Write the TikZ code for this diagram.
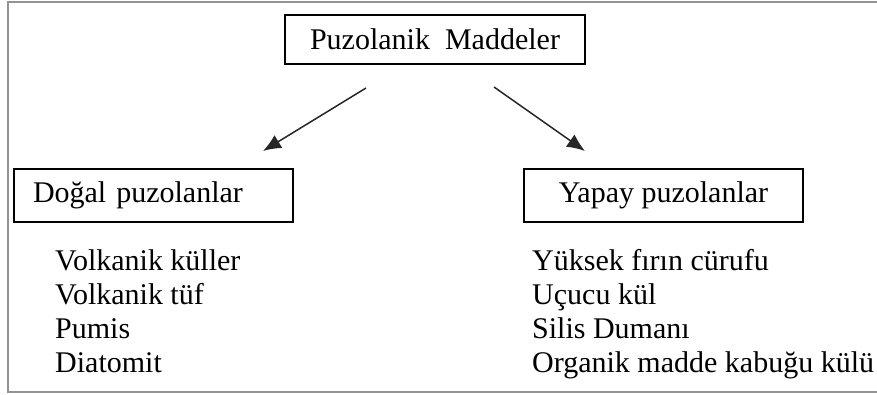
\documentclass[tikz,border=0pt]{standalone}
\usepackage{fontspec}
\setmainfont{Liberation Serif}
\usetikzlibrary{arrows.meta}
\tikzset{
  groupbox/.style={draw, line width=1.3pt, inner sep=0pt, minimum height=53pt},
  item/.style={anchor=base west, inner sep=0pt},
  branch/.style={-{Latex[length=18pt,width=15pt]}, line width=1.5pt, black!85}
}
\begin{document}
\begin{tikzpicture}[x=1pt, y=-1pt, font=\fontsize{30}{34}\selectfont]
  \useasboundingbox (0,0) rectangle (877,394);
  % outer frame
  \draw[line width=2pt, gray!85] (890,2) -- (8,2) -- (8,392) -- (890,392);
  % top box
  \node[groupbox, minimum width=300pt, minimum height=49pt] (top) at (435,39.5) {Puzolanik\ \ Maddeler};
  % child boxes
  \node[groupbox, text width=241pt, inner xsep=19pt, align=left] (dogal) at (153.5,195.5) {Do\u{g}al puzolanlar};
  \node[groupbox, minimum width=279pt] (yapay) at (663.5,195.5) {Yapay puzolanlar};
  % arrows
  \coordinate (dogalstart) at (366,88);
  \coordinate (dogalend) at (263,151);
  \coordinate (yapaystart) at (494,87);
  \coordinate (yapayend) at (585,151);
  \draw[branch] (dogalstart) -- (dogalend);
  \draw[branch] (yapaystart) -- (yapayend);
  % lists
  \foreach \txt [count=\i] in {Volkanik küller, Volkanik tüf, Pumis, Diatomit}
    \node[item] (dogal\i) at (55,236+34*\i) {\txt};
  \foreach \txt [count=\i] in {Yüksek fırın cürufu, Uçucu kül, Silis Dumanı, Organik madde kabuğu külü}
    \node[item] (yapay\i) at (532,236+34*\i) {\txt};
\end{tikzpicture}
\end{document}
